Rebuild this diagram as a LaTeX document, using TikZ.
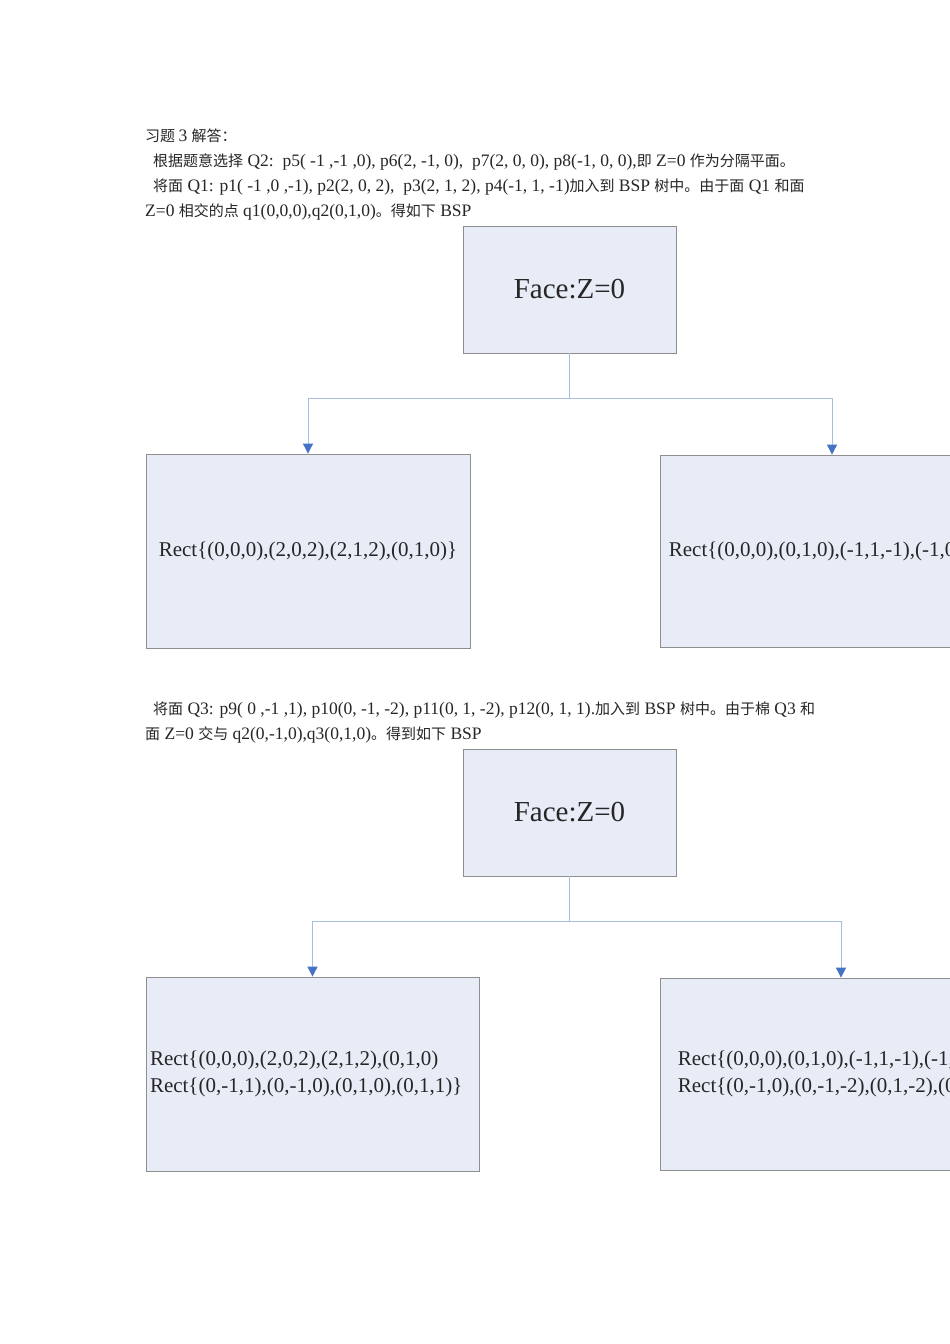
\documentclass[tikz,border=0pt]{standalone}
\usepackage{fontspec}
\setmainfont{Liberation Serif}
\newfontfamily\cjk[Scale=0.857]{Noto Sans CJK SC}
\usetikzlibrary{arrows.meta}
\definecolor{boxfill}{HTML}{E8ECF7}
\definecolor{boxline}{HTML}{8E8E8E}
\definecolor{connline}{HTML}{A9BEDF}
\definecolor{arrowblue}{HTML}{4472C4}
\tikzset{
  body/.style={anchor=base west, inner sep=0pt, font=\fontsize{17.5}{20}\selectfont, text=black!85},
  facebox/.style={draw=boxline, fill=boxfill, line width=0.8pt, minimum width=213pt, minimum height=127pt, inner sep=0pt, font=\fontsize{29}{34}\selectfont, text=black!85},
  rectbox/.style={draw=boxline, fill=boxfill, line width=0.8pt, inner sep=0pt, font=\fontsize{21}{27}\selectfont, text=black!85, align=left},
  conn/.style={draw=connline, line width=0.8pt},
  connarrow/.style={conn, -{Triangle[width=10pt,length=10pt,color=arrowblue,fill=arrowblue]}}
}
\begin{document}
\begin{tikzpicture}[x=1pt,y=-1pt]
\useasboundingbox (0,0) rectangle (950,1344);
\clip (0,0) rectangle (950,1344);
\fill[white] (0,0) rectangle (950,1344);
% text
\node[body] (l1) at (145,141) {\cjk 习题\ \normalfont 3\ \cjk 解答：};
\node[body] (l2) at (153,166) {\cjk 根据题意选择\normalfont\ Q2:\ \ p5( -1 ,-1 ,0), p6(2, -1, 0),\ \ p7(2, 0, 0), p8(-1, 0, 0),\cjk 即\normalfont\ Z=0\ \cjk 作为分隔平面。};
\node[body] (l3) at (153,191) {\cjk 将面\normalfont\ Q1: p1( -1 ,0 ,-1), p2(2, 0, 2),\ \ p3(2, 1, 2), p4(-1, 1, -1)\cjk 加入到\normalfont\ BSP\ \cjk 树中。由于面\normalfont\ Q1\ \cjk 和面};
\node[body] (l4) at (145,216) {Z=0\ \cjk 相交的点\normalfont\ q1(0,0,0),q2(0,1,0)\cjk 。得如下\normalfont\ BSP};
\node[body] (l5) at (153,714) {\cjk 将面\normalfont\ Q3: p9( 0 ,-1 ,1), p10(0, -1, -2), p11(0, 1, -2), p12(0, 1, 1).\cjk 加入到\normalfont\ BSP\ \cjk 树中。由于棉\normalfont\ Q3\ \cjk 和};
\node[body] (l6) at (145,739) {\cjk 面\normalfont\ Z=0\ \cjk 交与\normalfont\ q2(0,-1,0),q3(0,1,0)\cjk 。得到如下\normalfont\ BSP};
% tree 1
\node[facebox] (t1) at (569.5,289.5) {Face:Z=0};
\node[rectbox, minimum width=324pt, minimum height=194pt] (a1) at (308,551) {Rect\{(0,0,0),(2,0,2),(2,1,2),(0,1,0)\}};
\node[rectbox, minimum width=344pt, minimum height=192pt] (b1) at (832,551) {Rect\{(0,0,0),(0,1,0),(-1,1,-1),(-1,0,-1)\}};
\coordinate (j1) at (569.5,398);
\draw[conn] (t1.south) -- (j1);
\draw[connarrow] (j1) -| (a1.north);
\draw[connarrow] (j1) -| (b1.north);
% tree 2
\node[facebox] (t2) at (569.5,812.5) {Face:Z=0};
\node[rectbox, text width=325pt, inner xsep=4pt, minimum height=194pt] (a2) at (312.5,1074) {Rect\{(0,0,0),(2,0,2),(2,1,2),(0,1,0)\\Rect\{(0,-1,1),(0,-1,0),(0,1,0),(0,1,1)\}};
\node[rectbox, minimum width=362pt, minimum height=192pt] (b2) at (841,1074) {Rect\{(0,0,0),(0,1,0),(-1,1,-1),(-1,0,-1)\}\\Rect\{(0,-1,0),(0,-1,-2),(0,1,-2),(0,1,1)\}};
\coordinate (j2) at (569.5,921);
\draw[conn] (t2.south) -- (j2);
\draw[connarrow] (j2) -| (a2.north);
\draw[connarrow] (j2) -| (b2.north);
\end{tikzpicture}
\end{document}
